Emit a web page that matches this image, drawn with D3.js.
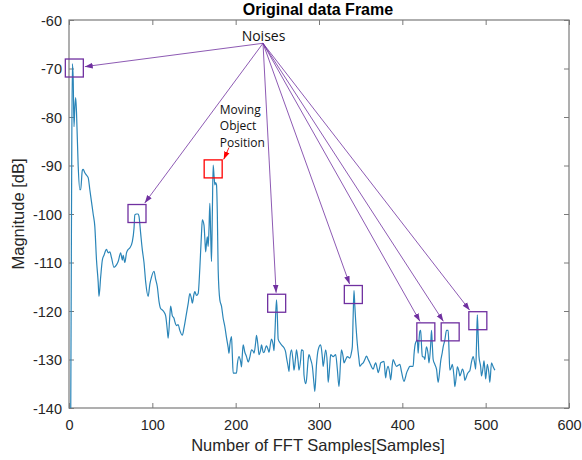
<!DOCTYPE html>
<html>
<head>
<meta charset="utf-8">
<script src="https://cdnjs.cloudflare.com/ajax/libs/d3/7.8.5/d3.min.js"></script>
<style>
  body { margin: 0; background: #fff; }
  svg { display: block; }
</style>
</head>
<body>
<script>
// FFT spectrum (sample index / magnitude in dB)
var sampleIdx = [2,3,4,5,6,7,8,9,11,13,14,16,17,19,21,23,25,27,29,31,33,35,36,38,40,42,45,47,49,51,54,57,59,62,64,65,67,69,71,73,76,78,79,81,83,84,86,88,90,92,95,97,99,102,104,106,108,110,112,114,116,118,119,121,122,124,126,127,129,131,133,136,138,141,143,145,147,148,150,151,153,155,157,159,160,162,163,164,165,166,167,168,169,170,171,172,173,174,175,176,177,178,179,181,183,185,187,189,191,192,193,195,196,197,199,201,202,204,206,207,208,209,211,213,215,217,219,221,222,224,225,227,228,230,231,233,234,236,237,239,240,242,243,245,246,247,249,250,251,253,255,258,260,261,263,264,265,267,269,270,272,273,275,276,278,279,281,282,284,285,287,288,290,292,294,295,297,299,302,304,305,307,308,310,311,313,314,317,320,322,324,326,327,329,330,332,334,337,339,340,341,342,343,344,346,348,349,351,353,355,357,359,361,363,365,367,368,370,371,373,374,376,378,380,381,383,385,386,388,389,391,393,395,397,399,402,404,405,407,409,411,413,414,415,416,418,419,420,421,422,423,424,426,427,428,429,431,432,434,435,436,437,439,441,443,445,446,448,449,451,453,455,456,457,459,460,462,463,465,466,468,469,471,472,474,475,477,478,480,481,483,485,487,488,489,490,491,492,494,495,497,498,499,500,502,504,505,507,509,511];
var magnitude = [-145,-100,-69,-72,-82,-78,-76,-79,-90,-95,-95,-91,-90.8,-91.5,-92,-92.5,-95,-97.5,-100,-102.6,-109.5,-114,-117,-113,-109.5,-108.5,-107.3,-108,-107.8,-109,-111,-110.5,-109.8,-108,-109.5,-108.5,-110,-108,-107.3,-107,-105.7,-103,-100.2,-100,-100,-100.5,-104,-107.4,-110,-114,-117,-114.5,-113,-111.8,-113.5,-115,-118,-119.5,-119.8,-120.2,-121,-124,-125.6,-121,-119,-121,-121.5,-122.2,-123,-122.8,-124,-125,-123.5,-120.5,-118.5,-116.4,-117.5,-118.4,-116.5,-116,-116.8,-116.4,-111.2,-104,-101.2,-102.3,-105,-107.8,-106,-104.7,-106.7,-103,-97.8,-104,-109.8,-100,-89.9,-92,-94,-93.5,-94,-100,-111.5,-117.7,-119,-121.5,-123.2,-125.5,-127.5,-128.7,-127,-125.3,-129,-132.8,-132.8,-132.8,-131,-129.4,-130.5,-131.5,-129,-127,-128.5,-129.4,-130.5,-129.5,-128,-128.3,-128.7,-126.5,-125,-127.5,-129,-128,-127,-128.5,-128.6,-127.5,-127.2,-128,-128.5,-126.5,-125.8,-127,-128.2,-125,-117.7,-121,-125.8,-126.5,-127,-127.6,-128.5,-129.6,-131.5,-132.5,-130,-128,-130.5,-132.2,-129.5,-128,-130.5,-132.2,-130,-128,-128.2,-133.2,-135,-134.2,-130,-129,-130,-131.4,-135,-136.6,-131,-128,-127,-129.5,-131.4,-129,-128,-131,-134.7,-131,-129,-129.4,-129,-132,-135.6,-130,-128,-129.5,-130.7,-130,-129.4,-129.7,-128.5,-127.3,-121,-115.8,-119,-122,-126.8,-130,-131.4,-131,-130.7,-130,-129.3,-130,-130.7,-131.5,-132,-131,-130.7,-132,-132.7,-131.5,-130.7,-130.5,-130.4,-133.8,-132.5,-131.4,-133,-134.2,-131,-130,-130.8,-131.4,-131.2,-131,-132.5,-134.5,-133.5,-132.8,-132,-131.4,-131.4,-131.4,-129,-127.3,-126.5,-126,-128.7,-126,-124.2,-124,-127,-129.4,-129.5,-130,-128.5,-127.4,-129,-130.7,-127,-124,-127,-130,-131,-132,-134.7,-132,-130.4,-128.5,-127.4,-126,-124,-124,-128,-132.2,-131.5,-131,-133.5,-135.6,-133,-131.5,-132.5,-133.4,-132.5,-132,-133,-134.3,-133.5,-133,-132.5,-132.3,-130.5,-129.4,-131,-132,-127,-120.8,-125,-129.4,-131.5,-133.4,-131.5,-130.3,-132,-134,-131,-133,-134.7,-130.7,-131.5,-132.2];

var xTicks = [0, 100, 200, 300, 400, 500, 600];
var yTicks = [-60, -70, -80, -90, -100, -110, -120, -130, -140];

// marked peaks (sample, dB)
var noiseSamples = [6.4, 81.6, 249.2, 341.2, 428.2, 457.4, 490.6];
var noiseLevels  = [-69.9, -99.9, -118.4, -116.6, -124.3, -124.3, -122];
var objectSample = 173;
var objectLevel  = -90.7;

var width = 582, height = 460;
var margin = {left: 69, top: 20, right: 13, bottom: 52};
var plotW = width - margin.left - margin.right;
var plotH = height - margin.top - margin.bottom;
var axisColor = '#7a7a7a';
var textColor = '#262626';
var purple = '#7030a0';

var x = d3.scaleLinear().domain([0, 600]).range([0, plotW]);
var y = d3.scaleLinear().domain([-140, -60]).range([plotH, 0]);

var svg = d3.select('body').append('svg')
  .attr('width', width)
  .attr('height', height);

var defs = svg.append('defs');
defs.append('clipPath').attr('id', 'plot-clip')
  .append('rect').attr('width', plotW).attr('height', plotH);

function addHead(id, color) {
  defs.append('marker')
    .attr('id', id)
    .attr('viewBox', '0 -4 9 8')
    .attr('refX', 9).attr('refY', 0)
    .attr('markerUnits', 'userSpaceOnUse')
    .attr('markerWidth', 8).attr('markerHeight', 7)
    .attr('orient', 'auto')
    .append('path').attr('d', 'M0,-3.2L9,0L0,3.2Z').attr('fill', color);
}
addHead('head-purple', purple);
addHead('head-red', '#ff0000');

var g = svg.append('g').attr('transform', 'translate(' + margin.left + ',' + margin.top + ')');

// plain hyphen minus like matlab, not the unicode minus d3 uses
var fmt = function (d) { return String(d); };

// axes, matlab style: ticks inside, on all four sides
function styleAxis(sel) {
  sel.select('.domain').remove();
  sel.selectAll('.tick line').attr('stroke', axisColor);
  sel.selectAll('.tick text')
    .attr('fill', textColor)
    .style('font-family', 'Liberation Sans, Arial, sans-serif')
    .style('font-size', '14.5px');
}

g.append('g').attr('transform', 'translate(0,' + plotH + ')')
  .call(d3.axisBottom(x).tickValues(xTicks).tickFormat(fmt).tickSize(-5).tickPadding(0))
  .call(styleAxis)
  .selectAll('.tick text').attr('y', 21.5).attr('dy', 0);

g.append('g')
  .call(d3.axisLeft(y).tickValues(yTicks).tickFormat(fmt).tickSize(-5).tickPadding(7))
  .call(styleAxis)
  .selectAll('.tick text').attr('dy', '0.36em');

g.append('g')
  .call(d3.axisTop(x).tickValues(xTicks).tickSize(-5).tickFormat(''))
  .call(styleAxis);

g.append('g').attr('transform', 'translate(' + plotW + ',0)')
  .call(d3.axisRight(y).tickValues(yTicks).tickSize(-5).tickFormat(''))
  .call(styleAxis);

g.append('rect')
  .attr('width', plotW).attr('height', plotH)
  .attr('fill', 'none')
  .attr('stroke', axisColor)
  .attr('stroke-width', 1.2);

// spectrum line
var points = sampleIdx.map(function (s, i) { return [s, magnitude[i]]; });
g.append('path')
  .datum(points)
  .attr('clip-path', 'url(#plot-clip)')
  .attr('fill', 'none')
  .attr('stroke', '#2a85b8')
  .attr('stroke-width', 1.2)
  .attr('stroke-linejoin', 'round')
  .attr('d', d3.line()
    .curve(d3.curveMonotoneX)
    .x(function (d) { return x(d[0]); })
    .y(function (d) { return y(d[1]); }));

// boxes + arrows
var boxHalf = 9;
var origin = [x(232.8), y(-64.8)];

function edgePoint(o, c, h) {
  var dx = c[0] - o[0], dy = c[1] - o[1];
  var t = Math.max(1 - h / Math.abs(dx), 1 - h / Math.abs(dy));
  return [o[0] + dx * t, o[1] + dy * t];
}

var noise = noiseSamples.map(function (s, i) { return [x(s), y(noiseLevels[i])]; });

g.selectAll('.noise-arrow')
  .data(noise)
  .enter()
  .append('line')
  .attr('class', 'noise-arrow')
  .attr('x1', origin[0]).attr('y1', origin[1])
  .attr('x2', function (d) { return edgePoint(origin, d, boxHalf + 1.5)[0]; })
  .attr('y2', function (d) { return edgePoint(origin, d, boxHalf + 1.5)[1]; })
  .attr('stroke', purple)
  .attr('stroke-width', 0.8)
  .attr('marker-end', 'url(#head-purple)');

g.selectAll('.noise-box')
  .data(noise)
  .enter()
  .append('rect')
  .attr('class', 'noise-box')
  .attr('x', function (d) { return d[0] - boxHalf; })
  .attr('y', function (d) { return d[1] - boxHalf; })
  .attr('width', boxHalf * 2).attr('height', boxHalf * 2)
  .attr('fill', 'none')
  .attr('stroke', purple)
  .attr('stroke-width', 1.3);

var obj = [x(objectSample), y(objectLevel)];
g.append('rect')
  .attr('x', obj[0] - boxHalf).attr('y', obj[1] - boxHalf)
  .attr('width', boxHalf * 2).attr('height', boxHalf * 2)
  .attr('fill', 'none')
  .attr('stroke', '#ff0000')
  .attr('stroke-width', 1.3);

g.append('line')
  .attr('x1', x(192)).attr('y1', y(-86.3))
  .attr('x2', obj[0] + boxHalf + 1.5).attr('y2', obj[1] - boxHalf - 0.5)
  .attr('stroke', '#ff0000')
  .attr('stroke-width', 0.9)
  .attr('marker-end', 'url(#head-red)');

// annotation text
g.append('text')
  .attr('x', origin[0] + 0.5).attr('y', origin[1] - 2)
  .attr('text-anchor', 'middle')
  .style('font-family', 'Open Sans, sans-serif')
  .style('font-size', '14px')
  .attr('fill', '#111')
  .text('Noises');

var objText = g.append('text')
  .style('font-family', 'Open Sans, sans-serif')
  .style('font-size', '12px')
  .attr('fill', '#111');
['Moving', 'Object', 'Position'].forEach(function (t, i) {
  objText.append('tspan')
    .attr('x', x(181)).attr('y', 93.5 + i * 16.7)
    .text(t);
});

// titles
svg.append('text')
  .attr('x', margin.left + plotW / 2 - 1).attr('y', 15)
  .attr('text-anchor', 'middle')
  .style('font-family', 'Liberation Sans, Arial, sans-serif')
  .style('font-size', '16px')
  .style('font-weight', 'bold')
  .attr('fill', '#000')
  .text('Original data Frame');

svg.append('text')
  .attr('x', margin.left + plotW / 2 - 1).attr('y', 451)
  .attr('text-anchor', 'middle')
  .style('font-family', 'Liberation Sans, Arial, sans-serif')
  .style('font-size', '16.5px')
  .attr('fill', textColor)
  .text('Number of FFT Samples[Samples]');

svg.append('text')
  .attr('transform', 'translate(24,' + (margin.top + plotH / 2) + ') rotate(-90)')
  .attr('text-anchor', 'middle')
  .style('font-family', 'Liberation Sans, Arial, sans-serif')
  .style('font-size', '16.5px')
  .attr('fill', textColor)
  .text('Magnitude [dB]');
</script>
</body>
</html>
